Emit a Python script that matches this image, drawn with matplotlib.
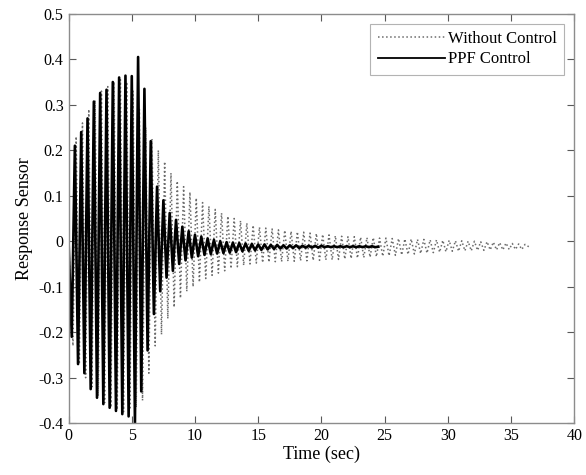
import numpy as np
import matplotlib
matplotlib.use("Agg")
import matplotlib.pyplot as plt

plt.rcParams['font.family'] = ['Liberation Serif', 'DejaVu Serif']

# ---- PPF Control: successive extrema, every 0.25 s from t = 0 to 24.5 s ----
ppf_step = 0.25
ppf_values = [
    0.0, -0.21, 0.21, -0.27,
    0.24, -0.29, 0.27, -0.325,
    0.307, -0.344, 0.326, -0.358,
    0.333, -0.366, 0.35, -0.373,
    0.36, -0.38, 0.364, -0.385,
    0.363, -0.40, 0.405, -0.33,
    0.335, -0.24, 0.22, -0.16,
    0.12, -0.11, 0.09, -0.08,
    0.062, -0.065, 0.047, -0.05,
    0.032, -0.042, 0.022, -0.036,
    0.014, -0.033, 0.01, -0.03,
    0.006, -0.028, 0.003, -0.027,
    0.0, -0.026, -0.002, -0.025,
    -0.003, -0.024, -0.004, -0.022,
    -0.005, -0.021, -0.006, -0.02,
    -0.007, -0.019, -0.007, -0.018,
    -0.008, -0.017, -0.008, -0.016,
    -0.009, -0.016, -0.009, -0.015,
    -0.009, -0.015, -0.01, -0.014,
    -0.01, -0.014, -0.01, -0.014,
    -0.01, -0.013, -0.011, -0.013,
    -0.011, -0.013, -0.011, -0.013,
    -0.011, -0.013, -0.011, -0.013,
    -0.011, -0.013, -0.011, -0.013,
    -0.011, -0.013, -0.012,
]

# ---- Without Control: peaks (t = 0.6, 1.1, ...) and troughs (t = 0.35, 0.85, ...) ----
wo_start = (0.0, 0.0)
wo_end = (36.4, -0.012)
wo_peak_t0, wo_trough_t0, wo_step = 0.6, 0.35, 0.5
wo_peaks = [
    0.23, 0.26, 0.29, 0.31, 0.33, 0.34, 0.35, 0.355, 0.35, 0.33,
    0.29, 0.25, 0.225, 0.2, 0.175, 0.15, 0.132, 0.12, 0.108, 0.095,
    0.085, 0.077, 0.07, 0.062, 0.055, 0.05, 0.045, 0.04, 0.035, 0.031,
    0.029, 0.027, 0.025, 0.024, 0.022, 0.021, 0.02, 0.018, 0.017, 0.015,
    0.014, 0.012, 0.011, 0.01, 0.01, 0.009, 0.008, 0.008, 0.007, 0.007,
    0.006, 0.006, 0.005, 0.005, 0.004, 0.004, 0.003, 0.003, 0.002, 0.002,
    0.001, 0.001, 0.0, 0.0, -0.001, -0.001, -0.002, -0.003, -0.004, -0.005,
    -0.006, -0.007,
]
wo_troughs = [
    -0.23, -0.27, -0.30, -0.32, -0.34, -0.355, -0.365, -0.37, -0.375, -0.37,
    -0.365, -0.35, -0.29, -0.23, -0.205, -0.17, -0.145, -0.125, -0.11, -0.1,
    -0.09, -0.082, -0.075, -0.07, -0.065, -0.06, -0.056, -0.053, -0.05, -0.048,
    -0.047, -0.046, -0.045, -0.045, -0.044, -0.044, -0.043, -0.043, -0.042, -0.042,
    -0.041, -0.041, -0.04, -0.039, -0.038, -0.037, -0.036, -0.035, -0.034, -0.033,
    -0.032, -0.031, -0.03, -0.029, -0.028, -0.027, -0.026, -0.025, -0.024, -0.023,
    -0.022, -0.022, -0.021, -0.021, -0.02, -0.02, -0.019, -0.019, -0.019, -0.018,
    -0.018, -0.018,
]

x_ticks = [0, 5, 10, 15, 20, 25, 30, 35, 40]
y_ticks = [-0.4, -0.3, -0.2, -0.1, 0, 0.1, 0.2, 0.3, 0.4, 0.5]
y_tick_labels = ['-0.4', '-0.3', '-0.2', '-0.1', '0', '0.1', '0.2', '0.3', '0.4', '0.5']

# ---- build series ----
ppf_t = np.arange(len(ppf_values)) * ppf_step
ppf_v = np.array(ppf_values)

n = min(len(wo_peaks), len(wo_troughs))
tt = wo_trough_t0 + np.arange(n) * wo_step
tp = wo_peak_t0 + np.arange(n) * wo_step
wo_t = [wo_start[0]]
wo_v = [wo_start[1]]
for i in range(n):
    wo_t += [tt[i], tp[i]]
    wo_v += [wo_troughs[i], wo_peaks[i]]
wo_t.append(wo_end[0])
wo_v.append(wo_end[1])

fig = plt.figure(figsize=(5.86, 4.75), dpi=100)
ax = fig.add_axes([0.117, 0.109, 0.863, 0.862])

ax.plot(wo_t, wo_v, linestyle=':', color='0.42', linewidth=1.1, label='Without Control')
ax.plot(ppf_t, ppf_v, linestyle='-', color='black', linewidth=1.9, label='PPF Control')

ax.set_xlim(0, 40)
ax.set_ylim(-0.4, 0.5)
ax.set_xticks(x_ticks)
ax.set_xticklabels([str(v) for v in x_ticks])
ax.set_yticks(y_ticks)
ax.set_yticklabels(y_tick_labels)
ax.tick_params(direction='in', top=True, right=True, length=5, width=0.8,
               colors='0.35', labelcolor='black', labelsize=11.5)
for s in ax.spines.values():
    s.set_color('0.55')
    s.set_linewidth(1.0)

ax.set_xlabel('Time (sec)', fontsize=13, labelpad=1)
ax.set_ylabel('Response Sensor', fontsize=13, labelpad=4)

leg = ax.legend(loc='upper right', fontsize=12, fancybox=False, framealpha=1,
                edgecolor='0.7', handlelength=4.0, handletextpad=0.2,
                borderpad=0.45, labelspacing=0.25, borderaxespad=0.6)
leg.get_frame().set_linewidth(0.8)
leg.get_lines()[1].set_linewidth(1.3)

fig.savefig('out.png', dpi=100)
